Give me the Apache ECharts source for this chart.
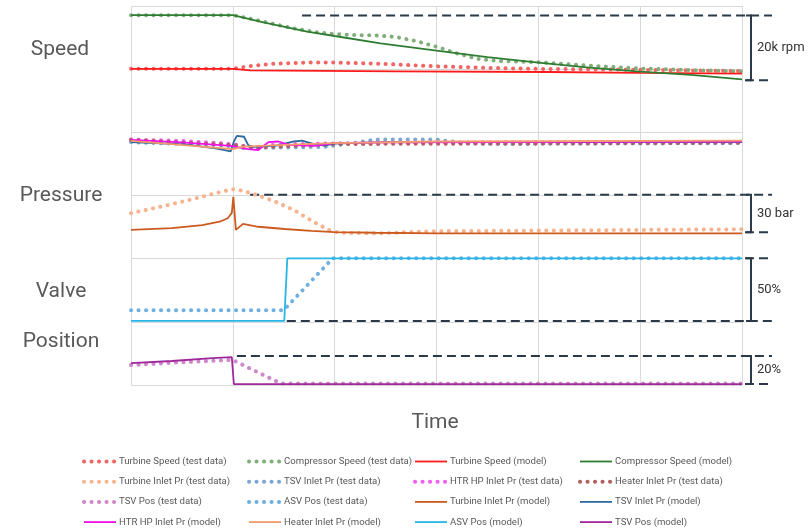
<!DOCTYPE html>
<html><head><meta charset="utf-8">
<script src="https://cdn.jsdelivr.net/npm/echarts@6/dist/echarts.min.js"></script>
<style>html,body{margin:0;padding:0;background:#fff}#c{width:810px;height:528px}</style>
</head><body><div id="c"></div>
<script>
// ---- axes (time in arbitrary units; vertical level normalised, 6 grid bands) ----
const timeMin = 0, timeMax = 60, timeStep = 10;
const levelMin = 0, levelMax = 120, levelStep = 20;

// ---- Speed panel ----
const turbineSpeedTest = [[0,100.1],[10,100.1],[11.7,101.0],[14,101.7],[17.3,102.1],[20,102.1],[24.5,101.7],[30,100.9],[35,100.4],[40,100.1],[50,99.8],[60,99.4]];
const compressorSpeedTest = [[0,117.1],[10,117.1],[12,115.8],[14,114.3],[16,112.9],[18,111.8],[20,111.1],[22,110.8],[24,110.7],[26,110.2],[28,108.9],[30,107.1],[32,105.0],[34,103.3],[36,102.6],[40,102.2],[45,101.1],[50,100.2],[55,99.7],[60,99.3]];
const turbineSpeedModel = [[0,100.1],[10,100.1],[10.1,99.6],[11.7,99.6],[11.8,99.3],[26,99.3],[26.1,99.1],[41,99.1],[41.1,98.9],[50,98.8],[60,98.6]];
const compressorSpeedModel = [[0,117.1],[10,117.1],[13,114.8],[17.3,111.9],[20,110.5],[24.5,108.2],[30,105.9],[35,103.8],[40,102.1],[45,100.5],[50,99.2],[55,98.2],[60,96.8]];

// ---- Pressure panel ----
const turbineInletTest = [[0,54.4],[3,56.5],[6,58.8],[9,61.3],[10,62.0],[11,61.5],[12.5,60.0],[14,58.3],[16,55.4],[18,51.5],[19.5,49.0],[20.5,48.2],[24,48.0],[30,48.7],[60,49.3]];
const tsvInletTest = [[0,76.9],[8,76.0],[10,75.6],[11,75.0],[15,75.2],[19,75.4],[22,76.7],[24,77.7],[30,77.7],[33,76.5],[36,76.3],[60,76.6]];
const htrHpInletTest = [[0,77.7],[5,77.3],[9,76.5],[10.5,76.0],[12,75.0],[14,76.0],[17,76.3],[20,76.5],[30,76.8],[60,76.9]];
const heaterInletTest = [[0,77.6],[10,76.0],[12,75.2],[20,76.3],[60,76.7]];
const turbineInletModel = [[0,49.1],[4,49.7],[7,50.6],[8.7,51.7],[9.5,52.8],[9.9,54.5],[10.05,59.6],[10.3,49.1],[11.0,51.0],[12.5,50.1],[15.1,49.4],[17.7,48.8],[20,48.4],[24,48.2],[30,48.0],[60,48.0]];
const tsvInletModel = [[0,76.9],[5.3,76.2],[8.3,74.9],[9.8,74.0],[10.1,77.1],[10.4,78.9],[11.1,78.6],[11.5,76.0],[11.9,75.4],[14.3,75.8],[16,77.1],[16.8,77.4],[17.7,76.5],[19,75.8],[20,76.4],[24.5,76.9],[60,76.9]];
const htrHpInletModel = [[0,77.6],[5,76.8],[9.8,75.7],[11.5,74.7],[12.5,74.4],[13.5,76.9],[14.5,77.1],[15.5,76.0],[18,75.7],[20,76.6],[25,76.8],[60,77.1]];
const heaterInletModel = [[0,77.3],[10,74.7],[11,75.5],[15,76.0],[20,76.6],[30,77.1],[60,77.4]];

// ---- Valve position panel ----
const tsvPosTest = [[0,6.3],[5,7.2],[9.6,7.9],[10,7.9],[14.7,0.5],[60,0.5]];
const asvPosTest = [[0,23.7],[15.0,23.7],[19.8,40.1],[60,40.1]];
const asvPosModel = [[0,20.3],[15.05,20.3],[15.35,40.1],[60,40.1]];
const tsvPosModel = [[0,6.9],[4,7.6],[8,8.5],[9.9,8.8],[10.1,0.3],[60,0.3]];

// ---- scale brackets ----
const bracketLabels = ['20k rpm','30 bar','50%','20%'];
const bracketTop = [117.0, 60.2, 40.1, 9.2];
const bracketBottom = [96.5, 48.4, 20.3, 0.3];
const bracketLongStart = [16.8, 11.7, 15.3, 10.4];
const bracketLongIsTop = [true, true, false, true];

// ---- text ----
const panelLabels = ['Speed','Pressure','Valve','Position'];
const timeLabel = 'Time';

const seriesDefs = [
  ['Turbine Speed (test data)', turbineSpeedTest, '#f26565', true],
  ['Compressor Speed (test data)', compressorSpeedTest, '#7fae7a', true],
  ['Turbine Speed (model)', turbineSpeedModel, '#ff1a1a', false],
  ['Compressor Speed (model)', compressorSpeedModel, '#2f7d32', false],
  ['Turbine Inlet Pr (test data)', turbineInletTest, '#f5b48e', true],
  ['TSV Inlet Pr (test data)', tsvInletTest, '#7ea6d3', true],
  ['HTR HP Inlet Pr (test data)', htrHpInletTest, '#f55cf0', true],
  ['Heater Inlet Pr (test data)', heaterInletTest, '#b06060', true],
  ['TSV Pos (test data)', tsvPosTest, '#cc88c8', true],
  ['ASV Pos (test data)', asvPosTest, '#6fb0e0', true],
  ['Turbine Inlet Pr (model)', turbineInletModel, '#cc5a1e', false],
  ['TSV Inlet Pr (model)', tsvInletModel, '#2e6aa0', false],
  ['HTR HP Inlet Pr (model)', htrHpInletModel, '#f010e8', false],
  ['Heater Inlet Pr (model)', heaterInletModel, '#f39c6b', false],
  ['ASV Pos (model)', asvPosModel, '#29b5e8', false],
  ['TSV Pos (model)', tsvPosModel, '#a0289c', false]
];

const FONT = 'Roboto, "Open Sans", sans-serif';
const series = seriesDefs.map(([name, data, color, dotted]) => ({
  name, type: 'line', data, symbol: 'none', color,
  lineStyle: dotted
    ? { color, width: 4, type: [0.1, 7.4], cap: 'round' }
    : { color, width: 1.8 },
  emphasis: { disabled: true }
}));

const legendCols = [82, 247, 413, 578];
const legends = legendCols.map((left, c) => ({
  orient: 'vertical', left, top: 456, padding: 0,
  itemWidth: 32, itemHeight: 11, itemGap: 9.2,
  itemStyle: { opacity: 0 },
  lineStyle: { width: 'inherit' },
  textStyle: { color: '#595959', fontSize: 9.6, fontFamily: FONT, lineHeight: 11, padding: [0,0,0,-2] },
  data: [0,1,2,3].map(r => seriesDefs[r*4 + c][0]),
  selectedMode: false
}));

const option = {
  animation: false,
  backgroundColor: '#fff',
  grid: { left: 131, right: 68, top: 6, bottom: 143 },
  xAxis: { type: 'value', min: timeMin, max: timeMax, interval: timeStep,
    axisLine: { show: false }, axisTick: { show: false }, axisLabel: { show: false },
    splitLine: { show: true, lineStyle: { color: '#d9d9d9', width: 1 } } },
  yAxis: { type: 'value', min: levelMin, max: levelMax, interval: levelStep,
    axisLine: { show: false }, axisTick: { show: false }, axisLabel: { show: false },
    splitLine: { show: true, lineStyle: { color: '#d9d9d9', width: 1 } } },
  legend: legends,
  series
};

const chart = echarts.init(document.getElementById('c'));
chart.setOption(option);

const px = (t, v) => chart.convertToPixel({ gridIndex: 0 }, [t, v]);
const right = px(timeMax, 0)[0];
const ANN = '#2b3a48';
const g = [];
bracketTop.forEach((top, i) => {
  const yT = px(0, top)[1], yB = px(0, bracketBottom[i])[1];
  const longY = bracketLongIsTop[i] ? yT : yB;
  const shortY = bracketLongIsTop[i] ? yB : yT;
  const xs = px(bracketLongStart[i], 0)[0];
  g.push({ type: 'line', shape: { x1: xs, y1: longY, x2: right + 30, y2: longY },
    style: { stroke: ANN, lineWidth: 2, lineDash: [9, 5] }, silent: true });
  g.push({ type: 'line', shape: { x1: right + 3, y1: shortY, x2: right + 30, y2: shortY },
    style: { stroke: ANN, lineWidth: 2, lineDash: [9, 5] }, silent: true });
  g.push({ type: 'polyline', shape: { points: [[right + 4, yT], [right + 9, yT], [right + 9, yB], [right + 4, yB]] },
    style: { stroke: ANN, lineWidth: 2, fill: null }, silent: true });
  g.push({ type: 'text', x: right + 15, y: (yT + yB) / 2,
    style: { text: bracketLabels[i], fill: '#333333', font: '13px ' + FONT, align: 'left', verticalAlign: 'middle' } });
});
const labelPos = [[60, 50], [61, 196], [61, 292], [61, 342]];
panelLabels.forEach((t, i) => {
  g.push({ type: 'text', x: labelPos[i][0], y: labelPos[i][1],
    style: { text: t, fill: '#595959', font: '21px ' + FONT, align: 'center', verticalAlign: 'middle' } });
});
g.push({ type: 'text', x: 435, y: 423,
  style: { text: timeLabel, fill: '#595959', font: '21px ' + FONT, align: 'center', verticalAlign: 'middle' } });
chart.setOption({ graphic: g });
</script></body></html>
